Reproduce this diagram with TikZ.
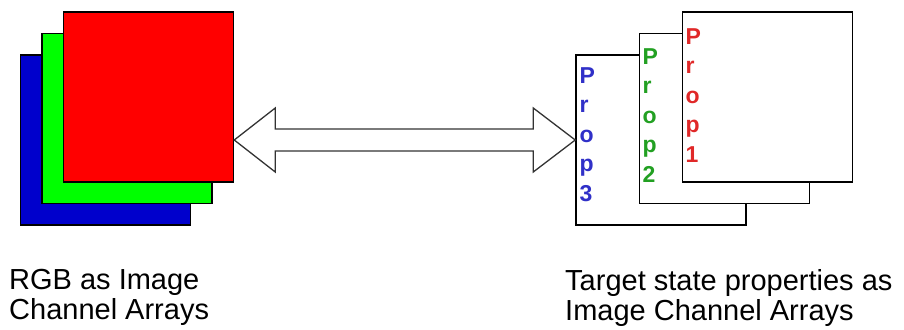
\documentclass[tikz,border=0pt]{standalone}
\usepackage{fontspec}
\setmainfont{Liberation Sans}
\usetikzlibrary{calc}

\definecolor{chblue}{RGB}{0,0,204}
\definecolor{chgreen}{RGB}{0,255,0}
\definecolor{chred}{RGB}{255,0,0}
\definecolor{propblue}{RGB}{48,48,200}
\definecolor{propgreen}{RGB}{34,160,34}
\definecolor{propred}{RGB}{224,40,40}

\tikzset{
	layer/.style={draw, line width=1.5pt, minimum width=170pt, minimum height=170pt, inner sep=0pt},
	letters/.style={anchor=north west, inner sep=0pt, align=left, font=\fontsize{23}{29.5}\selectfont\bfseries},
	caption/.style={anchor=north west, inner sep=0pt, align=left, font=\fontsize{29}{30}\selectfont},
	fatarrow/.style={draw=black!80, line width=1.3pt, fill=white, line join=miter}
}

\begin{document}
\begin{tikzpicture}[x=1pt,y=-1pt]
	\useasboundingbox (0,0) rectangle (904,329);
	% colour channels
	\node[layer, fill=chblue] (blue) at (105.5,140) {};
	\node[layer, fill=chgreen] (green) at (127,118.5) {};
	\node[layer, fill=chred] (red) at (148.5,97) {};
		% property channels
		\node[layer, fill=white] (p3) at (661,140) {};
		\node[layer, fill=white] (p2) at (724.5,118.5) {};
		\node[layer, fill=white] (p1) at (767.5,97) {};
		\node[letters, text=propblue] (t3) at (579.5,67) {P\\r\\o\\p\\3};
		\node[letters, text=propgreen] (t2) at (642.5,48) {P\\r\\o\\p\\2};
		\node[letters, text=propred] (t1) at (685.5,28) {P\\r\\o\\p\\1};
	% two-way block arrow
	\coordinate (l) at (red.east |- p3.west);
	\coordinate (r) at (p3.west);
	\draw[fatarrow] (l) -- ($(l)+(41,-32)$) -- ($(l)+(41,-11)$) -- ($(r)+(-42,-11)$)
		-- ($(r)+(-42,-32)$) -- (r) -- ($(r)+(-42,32)$) -- ($(r)+(-42,11)$)
		-- ($(l)+(41,11)$) -- ($(l)+(41,32)$) -- cycle;
	\node[caption] (rgb) at (9,269) {RGB as Image\\Channel Arrays};
	\node[caption] (target) at (565,269) {Target state properties as\\Image Channel Arrays};
\end{tikzpicture}
\end{document}
